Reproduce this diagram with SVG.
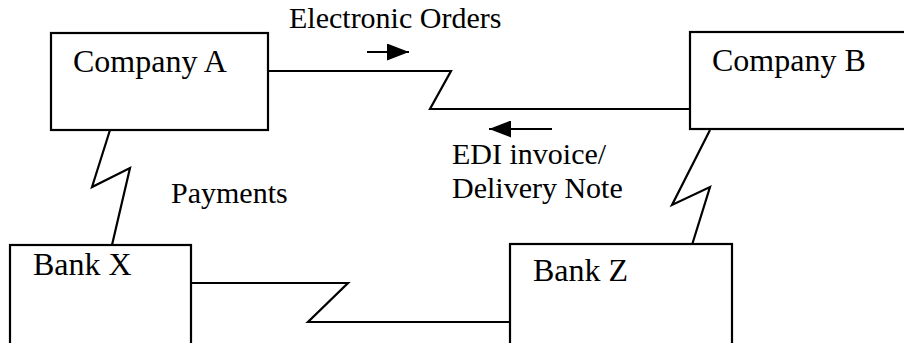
<svg xmlns="http://www.w3.org/2000/svg" width="904" height="343" viewBox="0 0 904 343">
<defs>
<style>
.box{fill:#fff;stroke:#000;stroke-width:2.2}
text{font-family:'Liberation Serif','Tinos','Times New Roman','DejaVu Serif',serif;fill:#000}
.lbl{font-size:32px}
.txt{font-size:30px}
.ln{fill:none;stroke:#000;stroke-width:2.2;stroke-linejoin:miter}
.arr{fill:none;stroke:#000;stroke-width:2.2}
</style>
<marker id="ah" viewBox="0 0 10 10" refX="10" refY="5" markerWidth="22" markerHeight="17" markerUnits="userSpaceOnUse" orient="auto" preserveAspectRatio="none">
<path d="M0,0 L10,5 L0,10 Z" fill="#000"/>
</marker>
</defs>
<rect width="904" height="343" fill="#fff"/>
<g id="connectors">
<path class="ln" d="M268,71 H451 L430,109 H690"/>
<path class="ln" d="M110,130 L92,187 L130,168 L112,245"/>
<path class="ln" d="M710,130 L672,205 L710,187 L692,245"/>
<path class="ln" d="M191,283 H348 L308,322 H510"/>
<line class="arr" x1="367" y1="52" x2="409" y2="52" marker-end="url(#ah)"/>
<line class="arr" x1="552" y1="129" x2="489" y2="129" marker-end="url(#ah)"/>
</g>
<g id="labels">
<text class="txt" x="289" y="28" font-family="Liberation Serif, serif">Electronic Orders</text>
<text class="txt" x="452" y="164" font-family="Liberation Serif, serif">EDI invoice/</text>
<text class="txt" x="452" y="198" font-family="Liberation Serif, serif">Delivery Note</text>
<text class="txt" x="171" y="203" font-family="Liberation Serif, serif">Payments</text>
</g>
<g id="companyA">
<rect class="box" x="51" y="33" width="217" height="97"/>
<text class="lbl" x="73" y="72" font-family="Liberation Serif, serif">Company A</text>
</g>
<g id="companyB">
<rect class="box" x="690" y="32" width="220" height="97"/>
<text class="lbl" x="712" y="71" font-family="Liberation Serif, serif">Company B</text>
</g>
<g id="bankX">
<rect class="box" x="10" y="245" width="181" height="100"/>
<text class="lbl" x="33" y="275" font-family="Liberation Serif, serif">Bank X</text>
</g>
<g id="bankZ">
<rect class="box" x="510" y="244" width="222" height="101"/>
<text class="lbl" x="533" y="281" font-family="Liberation Serif, serif">Bank Z</text>
</g>
</svg>
